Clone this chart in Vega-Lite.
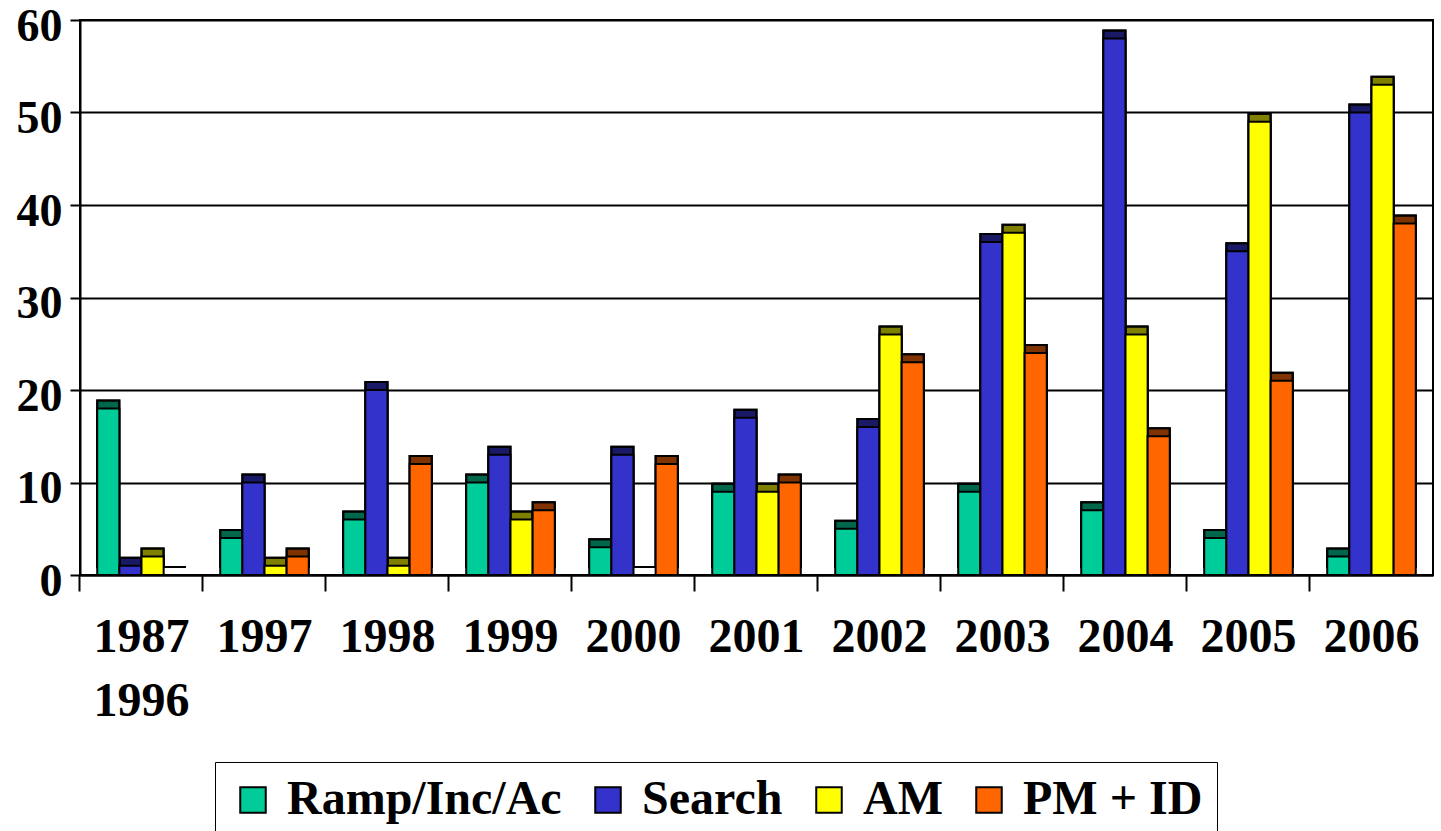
{
  "$schema": "https://vega.github.io/schema/vega-lite/v6.json",
  "autosize": {"type": "none"},
  "width": 1353,
  "height": 555,
  "padding": {"left": 80, "top": 20, "right": 8, "bottom": 256},
  "background": "white",
  "config": {
    "view": {"stroke": "black", "strokeWidth": 2},
    "font": "Liberation Serif"
  },
  "data": {
    "values": [
      {"period": "1987-1996", "series": "Ramp/Inc/Ac", "value": 18},
      {"period": "1987-1996", "series": "Search", "value": 1},
      {"period": "1987-1996", "series": "AM", "value": 2},
      {"period": "1987-1996", "series": "PM + ID", "value": 0},
      {"period": "1997", "series": "Ramp/Inc/Ac", "value": 4},
      {"period": "1997", "series": "Search", "value": 10},
      {"period": "1997", "series": "AM", "value": 1},
      {"period": "1997", "series": "PM + ID", "value": 2},
      {"period": "1998", "series": "Ramp/Inc/Ac", "value": 6},
      {"period": "1998", "series": "Search", "value": 20},
      {"period": "1998", "series": "AM", "value": 1},
      {"period": "1998", "series": "PM + ID", "value": 12},
      {"period": "1999", "series": "Ramp/Inc/Ac", "value": 10},
      {"period": "1999", "series": "Search", "value": 13},
      {"period": "1999", "series": "AM", "value": 6},
      {"period": "1999", "series": "PM + ID", "value": 7},
      {"period": "2000", "series": "Ramp/Inc/Ac", "value": 3},
      {"period": "2000", "series": "Search", "value": 13},
      {"period": "2000", "series": "AM", "value": 0},
      {"period": "2000", "series": "PM + ID", "value": 12},
      {"period": "2001", "series": "Ramp/Inc/Ac", "value": 9},
      {"period": "2001", "series": "Search", "value": 17},
      {"period": "2001", "series": "AM", "value": 9},
      {"period": "2001", "series": "PM + ID", "value": 10},
      {"period": "2002", "series": "Ramp/Inc/Ac", "value": 5},
      {"period": "2002", "series": "Search", "value": 16},
      {"period": "2002", "series": "AM", "value": 26},
      {"period": "2002", "series": "PM + ID", "value": 23},
      {"period": "2003", "series": "Ramp/Inc/Ac", "value": 9},
      {"period": "2003", "series": "Search", "value": 36},
      {"period": "2003", "series": "AM", "value": 37},
      {"period": "2003", "series": "PM + ID", "value": 24},
      {"period": "2004", "series": "Ramp/Inc/Ac", "value": 7},
      {"period": "2004", "series": "Search", "value": 58},
      {"period": "2004", "series": "AM", "value": 26},
      {"period": "2004", "series": "PM + ID", "value": 15},
      {"period": "2005", "series": "Ramp/Inc/Ac", "value": 4},
      {"period": "2005", "series": "Search", "value": 35},
      {"period": "2005", "series": "AM", "value": 49},
      {"period": "2005", "series": "PM + ID", "value": 21},
      {"period": "2006", "series": "Ramp/Inc/Ac", "value": 2},
      {"period": "2006", "series": "Search", "value": 50},
      {"period": "2006", "series": "AM", "value": 53},
      {"period": "2006", "series": "PM + ID", "value": 38}
    ]
  },
  "encoding": {
    "x": {
      "field": "period",
      "type": "nominal",
      "sort": null,
      "scale": {"paddingInner": 0.28, "paddingOuter": 0.14},
      "axis": {
        "title": null,
        "labelAngle": 0,
        "labelExpr": "split(datum.label, '-')",
        "labelLineHeight": 64,
        "labelFont": "Liberation Serif",
        "labelFontWeight": "bold",
        "labelFontSize": 48,
        "labelColor": "black",
        "labelPadding": 22,
        "labelBaseline": "top",
        "tickColor": "black",
        "tickWidth": 2,
        "tickSize": 16,
        "bandPosition": -0.2,
        "domainColor": "black",
        "domainWidth": 2,
        "grid": false
      }
    },
    "xOffset": {
      "field": "series",
      "type": "nominal",
      "sort": ["Ramp/Inc/Ac", "Search", "AM", "PM + ID"],
      "scale": {"paddingInner": 0}
    },
    "y": {
      "field": "value",
      "type": "quantitative",
      "scale": {"domain": [0, 60], "nice": false},
      "axis": {
        "title": null,
        "values": [0, 10, 20, 30, 40, 50, 60],
        "labelFont": "Liberation Serif",
        "labelFontWeight": "bold",
        "labelFontSize": 46,
        "labelColor": "black",
        "labelPadding": 8,
        "labelOffset": 6,
        "tickColor": "black",
        "tickWidth": 2,
        "tickSize": 10,
        "domainColor": "black",
        "domainWidth": 2,
        "grid": true,
        "gridColor": "black",
        "gridWidth": 2
      }
    },
    "color": {
      "field": "series",
      "type": "nominal",
      "scale": {
        "domain": ["Ramp/Inc/Ac", "Search", "AM", "PM + ID"],
        "range": ["#00CC99", "#3333CC", "#FFFF00", "#FF6600"]
      },
      "legend": {
        "title": null,
        "orient": "none",
        "legendX": 135,
        "legendY": 742,
        "direction": "horizontal",
        "symbolType": "square",
        "symbolSize": 650,
        "symbolStrokeColor": "black",
        "symbolStrokeWidth": 2,
        "symbolOpacity": 1,
        "labelFont": "Liberation Serif",
        "labelFontWeight": "bold",
        "labelFontSize": 48,
        "labelColor": "black",
        "labelOffset": 10,
        "columnPadding": 22,
        "labelLimit": 0,
        "strokeColor": "black",
        "padding": 14,
        "fillColor": "white"
      }
    }
  },
  "layer": [
    {
      "mark": {"type": "bar", "yOffset": -8, "stroke": "black", "strokeWidth": 2, "opacity": 1}
    },
    {
      "mark": {"type": "bar", "yOffset": -8, "fillOpacity": 0.5, "stroke": "black", "strokeWidth": 2},
      "encoding": {"color": {"value": "black"}}
    },
    {
      "mark": {"type": "bar", "stroke": "black", "strokeWidth": 2, "opacity": 1}
    }
  ]
}
